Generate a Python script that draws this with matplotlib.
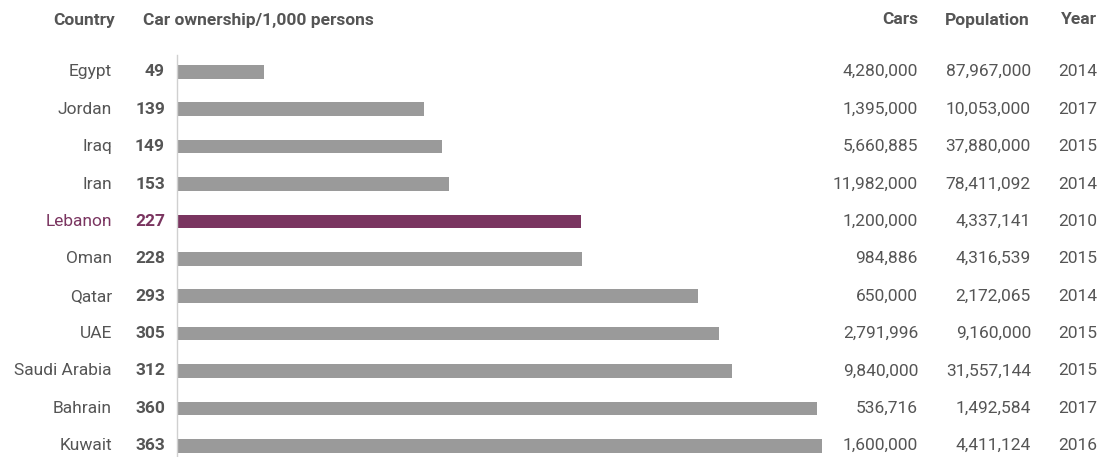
import matplotlib
matplotlib.use("Agg")
import matplotlib.pyplot as plt
import matplotlib.transforms as mtransforms

countries = ["Egypt", "Jordan", "Iraq", "Iran", "Lebanon", "Oman", "Qatar", "UAE",
             "Saudi Arabia", "Bahrain", "Kuwait"]
ownership = [49, 139, 149, 153, 227, 228, 293, 305, 312, 360, 363]
cars = ["4,280,000", "1,395,000", "5,660,885", "11,982,000", "1,200,000", "984,886",
        "650,000", "2,791,996", "9,840,000", "536,716", "1,600,000"]
population = ["87,967,000", "10,053,000", "37,880,000", "78,411,092", "4,337,141",
              "4,316,539", "2,172,065", "9,160,000", "31,557,144", "1,492,584", "4,411,124"]
years = ["2014", "2017", "2015", "2014", "2010", "2015", "2014", "2015", "2015", "2017", "2016"]
highlight = "Lebanon"

plt.rcParams['font.family'] = ['Roboto', 'DejaVu Sans']
W, H = 1105, 457
fig = plt.figure(figsize=(W / 100, H / 100), dpi=100)

gray = "#9a9a9a"
hl = "#7a3560"
txt = "#555555"

ax_left, ax_right = 177, 823
ax_top, ax_bot = 55, 457
ax = fig.add_axes([ax_left / W, 1 - ax_bot / H, (ax_right - ax_left) / W, (ax_bot - ax_top) / H])
ys = list(range(len(countries)))
colors = [hl if c == highlight else gray for c in countries]
ax.barh(ys, ownership, height=0.36, color=colors)
ax.set_xlim(0, 363.3)
ax.set_ylim(10.3, -0.45)
for s in ["top", "right", "bottom"]:
    ax.spines[s].set_visible(False)
ax.spines["left"].set_color("#d0d0d0")
ax.spines["left"].set_linewidth(1.0)
ax.set_xticks([])
ax.set_yticks([])

fs = 12.5
tr = mtransforms.blended_transform_factory(fig.transFigure, ax.transData)
for i, c in enumerate(countries):
    col = hl if c == highlight else txt
    ax.text(112 / W, i, c, transform=tr, ha="right", va="center", fontsize=fs, color=col)
    ax.text(165 / W, i, str(ownership[i]), transform=tr, ha="right", va="center",
            fontsize=fs, color=col, fontweight="bold")
    ax.text(918 / W, i, cars[i], transform=tr, ha="right", va="center", fontsize=fs, color=txt)
    ax.text(1031 / W, i, population[i], transform=tr, ha="right", va="center", fontsize=fs, color=txt)
    ax.text(1097 / W, i, years[i], transform=tr, ha="right", va="center", fontsize=fs, color=txt)

hy = 1 - 20 / H
hfs = 12.5
fig.text(115 / W, hy, "Country", ha="right", va="center", fontsize=hfs, fontweight="bold", color=txt)
fig.text(143 / W, hy, "Car ownership/1,000 persons", ha="left", va="center", fontsize=hfs,
         fontweight="bold", color=txt)
fig.text(918 / W, hy, "Cars", ha="right", va="center", fontsize=hfs, fontweight="bold", color=txt)
fig.text(1030 / W, hy, "Population", ha="right", va="center", fontsize=hfs, fontweight="bold", color=txt)
fig.text(1097 / W, hy, "Year", ha="right", va="center", fontsize=hfs, fontweight="bold", color=txt)

fig.savefig("out.png", dpi=100)
